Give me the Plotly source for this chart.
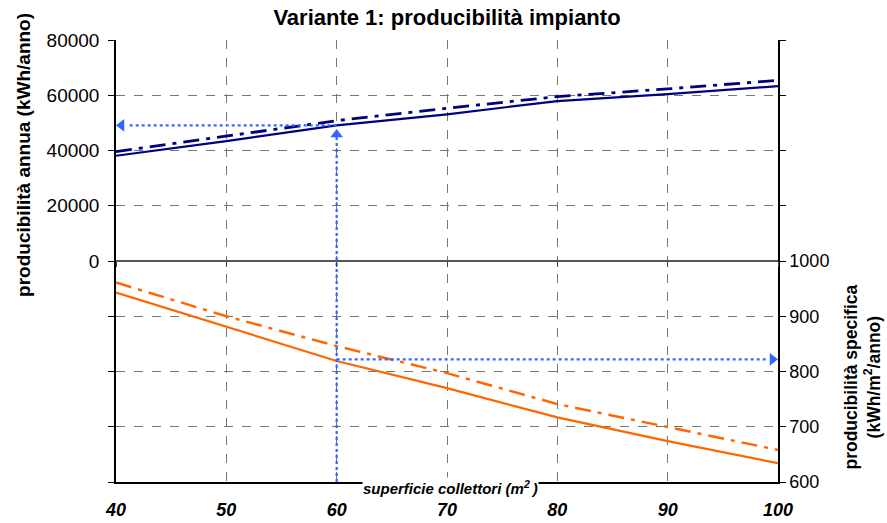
import plotly.graph_objects as go

# ---- data ----
superficie = [40, 50, 60, 70, 80, 90, 100]               # m2
annua_solid = [38100, 43400, 49100, 53100, 57900, 60400, 63300]    # kWh/anno
annua_dashdot = [39600, 45200, 50800, 55300, 59500, 62300, 65400]  # kWh/anno
spec_solid = [943, 881, 819, 770, 717, 674, 634]          # kWh/m2/anno
spec_dashdot = [961, 900, 846, 797, 741, 700, 658]        # kWh/m2/anno

sel_area = 60
sel_annua = 49100
sel_spec = 822

left_tickvals = [-80000, -60000, -40000, -20000, 0, 20000, 40000, 60000, 80000]
left_ticktext = ["", "", "", "", "0", "20000", "40000", "60000", "80000"]
right_tickvals = [600, 700, 800, 900, 1000, 1100, 1200, 1300, 1400]
right_ticktext = ["600", "700", "800", "900", "1000", "", "", "", ""]
x_ticks = [40, 50, 60, 70, 80, 90, 100]

NAVY = "#000080"
ORANGE = "#FF6600"
BLUE = "#3366FF"
FONT = "Liberation Sans"
DASHDOT = "16px,7px,4px,7px"

fig = go.Figure()

# specific production (right axis)
fig.add_trace(go.Scatter(x=superficie, y=spec_dashdot, mode="lines", yaxis="y2",
                         line=dict(color=ORANGE, width=2.5, dash=DASHDOT)))
fig.add_trace(go.Scatter(x=superficie, y=spec_solid, mode="lines", yaxis="y2",
                         line=dict(color=ORANGE, width=2.2)))
# annual production (left axis)
fig.add_trace(go.Scatter(x=superficie, y=annua_dashdot, mode="lines",
                         line=dict(color=NAVY, width=2.8, dash=DASHDOT)))
fig.add_trace(go.Scatter(x=superficie, y=annua_solid, mode="lines",
                         line=dict(color=NAVY, width=2.2)))

# reading arrows
fig.add_trace(go.Scatter(x=[sel_area, sel_area], y=[-80000, sel_annua - 4000], mode="lines",
                         xaxis="x2", line=dict(color=BLUE, width=2.2, dash="dot")))
fig.add_trace(go.Scatter(x=[sel_area], y=[sel_annua - 3300], mode="markers", cliponaxis=False,
                         marker=dict(symbol="triangle-up", size=11, color=BLUE)))
fig.add_trace(go.Scatter(x=[sel_area, superficie[0] + 1], y=[sel_annua, sel_annua], mode="lines",
                         line=dict(color=BLUE, width=2.2, dash="dot")))
fig.add_trace(go.Scatter(x=[superficie[0] + 0.5], y=[sel_annua], mode="markers", cliponaxis=False,
                         marker=dict(symbol="triangle-left", size=11, color=BLUE)))
fig.add_trace(go.Scatter(x=[sel_area, superficie[-1] - 1], y=[sel_spec, sel_spec], mode="lines",
                         yaxis="y2", line=dict(color=BLUE, width=2.2, dash="dot")))
fig.add_trace(go.Scatter(x=[superficie[-1] - 0.5], y=[sel_spec], mode="markers", yaxis="y2",
                         cliponaxis=False,
                         marker=dict(symbol="triangle-right", size=11, color=BLUE)))

fig.update_layout(
    width=887, height=523,
    margin=dict(l=116, r=109, t=40, b=41),
    paper_bgcolor="white", plot_bgcolor="white",
    showlegend=False,
    font=dict(family=FONT, color="black"),
    title=dict(text="<b>Variante 1: producibilità impianto</b>", x=0.5, xanchor="center",
               xref="paper", y=0.9675, yanchor="middle", font=dict(size=22, family=FONT)),
    xaxis=dict(range=[40, 100], tickvals=x_ticks, showgrid=True, griddash="dash",
               gridcolor="#777", gridwidth=1, showline=True, linecolor="black", linewidth=1.5,
               ticks="", zeroline=False, ticklabelstandoff=11, automargin=False,
               tickfont=dict(size=18, family=FONT, weight="bold", style="italic"),
               mirror=False),
    xaxis2=dict(range=[40, 100], overlaying="x", anchor="free", position=0.5,
                tickvals=x_ticks, ticks="outside", ticklen=5, tickcolor="#444",
                showticklabels=False, showgrid=False, zeroline=False, showline=False,
                automargin=False),
    yaxis=dict(range=[-80000, 80000], tickvals=left_tickvals, ticktext=left_ticktext,
               showgrid=True, griddash="dash", gridcolor="#777", gridwidth=1,
               zeroline=True, zerolinecolor="#555", zerolinewidth=1.8,
               showline=True, linecolor="black", linewidth=1.5,
               ticks="outside", ticklen=6, tickcolor="black", ticklabelstandoff=5,
               automargin=False, tickfont=dict(size=19, family=FONT)),
    yaxis2=dict(range=[600, 1400], overlaying="y", side="right", tickvals=right_tickvals,
                ticktext=right_ticktext, showgrid=False, zeroline=False,
                showline=True, linecolor="black", linewidth=1.5,
                ticks="outside", ticklen=6, tickcolor="black", automargin=False,
                tickfont=dict(size=18, family=FONT)),
)

fig.add_annotation(text="<b>producibilità annua (kWh/anno)</b>", textangle=-90,
                   xref="paper", yref="paper", x=-0.139, y=0.740, showarrow=False,
                   xanchor="center", yanchor="middle",
                   font=dict(size=19, family=FONT))
fig.add_annotation(text="<b>producibilità specifica<br>(kWh/m<sup>2</sup>/anno)</b>", textangle=-90,
                   xref="paper", yref="paper", x=1.128, y=0.238, showarrow=False,
                   xanchor="center", yanchor="middle",
                   font=dict(size=17.5, family=FONT))
fig.add_annotation(text="<b><i>superficie collettori (m<sup>2 </sup>)</i></b>",
                   xref="paper", yref="paper", x=0.506, y=-0.013, yanchor="middle",
                   xanchor="center",
                   showarrow=False, bgcolor="white", borderpad=0,
                   font=dict(size=15, family=FONT))

fig.write_html("out.html", config={"displayModeBar": False},
               post_script="document.body.style.margin='0px';")
